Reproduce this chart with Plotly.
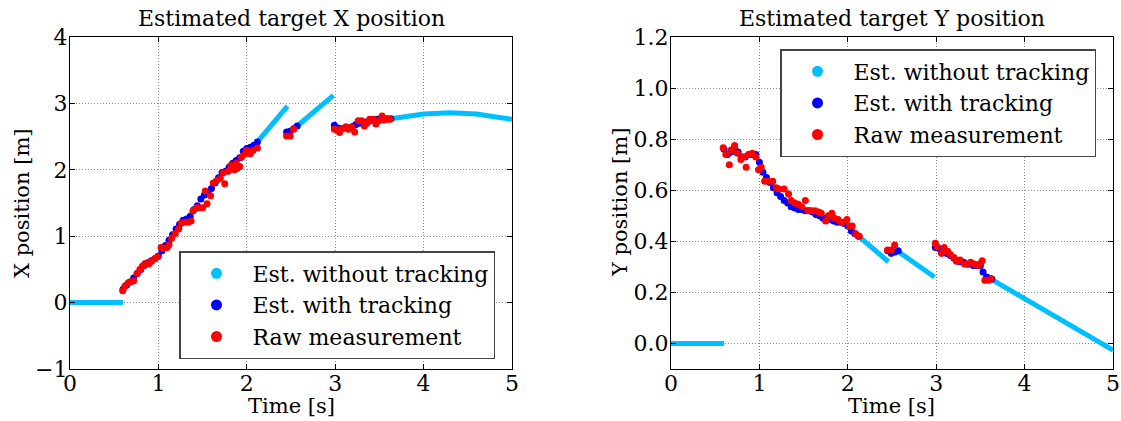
import plotly.graph_objects as go

# ---------------- X position (left panel) ----------------
x_free_t = [0.0, 0.6, None, 2.12, 2.46, None, 2.57, 2.98, None,
            3.63, 3.8, 4.0, 4.3, 4.6, 4.8, 5.0]
x_free_v = [0.0, 0.0, None, 2.42, 2.96, None, 2.66, 3.12, None,
            2.77, 2.81, 2.84, 2.86, 2.84, 2.80, 2.76]

x_trk_t = [0.60, 0.64, 0.68, 0.72, 0.76, 0.80, 0.84, 0.88, 0.92, 0.96,
           1.00, 1.04, 1.08, 1.12, 1.16, 1.20, 1.24, 1.28, 1.32, 1.36,
           1.40, 1.44, 1.48, 1.52, 1.56, 1.60, 1.64, 1.68, 1.72, 1.76,
           1.80, 1.84, 1.88, 1.92, 1.96, 2.00, 2.04, 2.08, 2.12,
           None, 2.45, 2.49, 2.53, 2.57,
           None, 2.99, 3.03, 3.07, 3.11, 3.15, 3.19, 3.23, 3.27, 3.31,
           3.35, 3.39, 3.43, 3.47, 3.51, 3.55, 3.59, 3.63]
x_trk_v = [0.20, 0.26, 0.31, 0.37, 0.44, 0.50, 0.56, 0.60, 0.63, 0.66,
           0.70, 0.78, 0.86, 0.94, 1.02, 1.11, 1.18, 1.24, 1.26, 1.30,
           1.40, 1.46, 1.56, 1.62, 1.66, 1.72, 1.80, 1.88, 1.96, 1.98,
           2.04, 2.10, 2.14, 2.18, 2.28, 2.32, 2.34, 2.37, 2.42,
           None, 2.57, 2.58, 2.62, 2.66,
           None, 2.67, 2.63, 2.62, 2.63, 2.63, 2.65, 2.68, 2.70, 2.71,
           2.72, 2.74, 2.75, 2.76, 2.77, 2.77, 2.77, 2.77]

x_raw_t = [0.596, 0.622, 0.66, 0.70, 0.72, 0.76, 0.79, 0.82, 0.85, 0.89,
           0.92, 0.96, 0.99, 1.03, 1.06, 1.10, 1.12, 1.15, 1.19, 1.23,
           1.26, 1.30, 1.34, 1.37, 1.39, 1.43, 1.46, 1.50, 1.53, 1.55,
           1.59, 1.62, 1.66, 1.70, 1.73, 1.75, 1.79, 1.82, 1.86, 1.88,
           1.89, 1.92, 1.94, 1.98, 2.00, 2.04, 2.07, 2.12,
           2.45, 2.49, 2.53,
           2.99, 3.02, 3.05, 3.08, 3.12, 3.15, 3.19, 3.22, 3.26, 3.30,
           3.33, 3.36, 3.39, 3.43, 3.46, 3.49, 3.53, 3.55, 3.59, 3.62]
x_raw_v = [0.18, 0.25, 0.30, 0.32, 0.33, 0.44, 0.50, 0.55, 0.59, 0.58,
           0.62, 0.66, 0.69, 0.83, 0.82, 0.83, 0.87, 0.97, 1.04, 1.11,
           1.20, 1.21, 1.21, 1.23, 1.38, 1.43, 1.43, 1.43, 1.68, 1.49,
           1.61, 1.80, 1.84, 1.87, 1.95, 1.79, 1.98, 2.07, 2.00, 2.10,
           2.02, 2.05, 2.19, 2.24, 2.29, 2.24, 2.29, 2.33,
           2.51, 2.51, 2.61,
           2.61, 2.60, 2.56, 2.62, 2.65, 2.61, 2.64, 2.57, 2.74, 2.74,
           2.66, 2.70, 2.76, 2.76, 2.69, 2.74, 2.81, 2.75, 2.76, 2.76]

# ---------------- Y position (right panel) ----------------
y_free_t = [0.0, 0.6, None, 2.12, 2.46, None, 2.57, 2.98, None, 3.63, 5.0]
y_free_v = [0.0, 0.0, None, 0.42, 0.32, None, 0.36, 0.26, None, 0.25, -0.026]

y_trk_t = [0.60, 0.64, 0.68, 0.72, 0.76, 0.80, 0.84, 0.88, 0.92, 0.96,
           1.00, 1.04, 1.08, 1.12, 1.16, 1.20, 1.24, 1.28, 1.32, 1.36,
           1.40, 1.44, 1.48, 1.52, 1.56, 1.60, 1.64, 1.68, 1.72, 1.76,
           1.80, 1.84, 1.88, 1.92, 1.96, 2.00, 2.04, 2.08, 2.12,
           None, 2.45, 2.49, 2.53, 2.57,
           None, 2.99, 3.04, 3.08, 3.12, 3.16, 3.20, 3.23, 3.27, 3.31,
           3.36, 3.42, 3.46, 3.50, 3.53, 3.57, 3.60, 3.63]
y_trk_v = [0.76, 0.74, 0.75, 0.77, 0.75, 0.73, 0.73, 0.74, 0.74, 0.74,
           0.71, 0.67, 0.65, 0.63, 0.61, 0.59, 0.575, 0.56, 0.55, 0.535,
           0.53, 0.525, 0.525, 0.52, 0.52, 0.515, 0.505, 0.50, 0.49, 0.49,
           0.485, 0.48, 0.475, 0.475, 0.47, 0.46, 0.44, 0.43, 0.42,
           None, 0.363, 0.353, 0.358, 0.363,
           None, 0.376, 0.37, 0.363, 0.352, 0.344, 0.334, 0.324, 0.32, 0.318,
           0.31, 0.305, 0.305, 0.305, 0.28, 0.26, 0.255, 0.252]

y_raw_t = [0.59, 0.62, 0.66, 0.68, 0.72, 0.75, 0.79, 0.82, 0.85, 0.88,
           0.92, 0.96, 0.99, 1.02, 1.06, 1.10, 1.15, 1.19, 1.22, 1.28,
           1.33, 1.36, 1.40, 1.44, 1.48, 1.52, 1.55, 1.59, 1.63, 1.67,
           1.70, 1.75, 1.78, 1.82, 1.85, 1.89, 1.93, 1.99, 2.02, 2.05,
           2.09, 2.13,
           2.45, 2.49, 2.53,
           2.99, 3.01, 3.06, 3.09, 3.13, 3.16, 3.20, 3.23, 3.27, 3.32,
           3.35, 3.39, 3.43, 3.47, 3.49, 3.52, 3.55, 3.59, 3.62]
y_raw_v = [0.766, 0.74, 0.70, 0.758, 0.775, 0.745, 0.72, 0.73, 0.69, 0.74,
           0.745, 0.73, 0.68, 0.69, 0.635, 0.635, 0.635, 0.61, 0.605, 0.605,
           0.585, 0.56, 0.55, 0.545, 0.535, 0.56, 0.52, 0.52, 0.52, 0.515,
           0.51, 0.48, 0.50, 0.51, 0.49, 0.485, 0.475, 0.485, 0.46, 0.46,
           0.43, 0.42,
           0.366, 0.366, 0.386,
           0.392, 0.379, 0.353, 0.376, 0.361, 0.348, 0.337, 0.322, 0.327, 0.311,
           0.311, 0.318, 0.311, 0.305, 0.311, 0.324, 0.248, 0.248, 0.252]

series_names = ["Est. without tracking", "Est. with tracking", "Raw measurement"]
series_colors = ["#00bfff", "#0000ff", "#ff0000"]

x_ticks = [0, 1, 2, 3, 4, 5]
left_y_ticks = [-1, 0, 1, 2, 3, 4]
left_y_labels = ["\u22121", "0", "1", "2", "3", "4"]
right_y_ticks = [0.0, 0.2, 0.4, 0.6, 0.8, 1.0, 1.2]
right_y_labels = ["0.0", "0.2", "0.4", "0.6", "0.8", "1.0", "1.2"]

FONT = "DejaVu Serif"
W, H = 1121, 421
LEFT_DOM = [70 / W, 512 / W]
RIGHT_DOM = [671 / W, 1113 / W]
Y_DOM = [52 / H, 384 / H]

fig = go.Figure()

panels = [
    ("x", "y", x_free_t, x_free_v, x_trk_t, x_trk_v, x_raw_t, x_raw_v, "legend"),
    ("x2", "y2", y_free_t, y_free_v, y_trk_t, y_trk_v, y_raw_t, y_raw_v, "legend2"),
]

for xa, ya, ft, fv, tt, tv, rt, rv, leg in panels:
    fig.add_trace(go.Scatter(x=ft, y=fv, xaxis=xa, yaxis=ya, mode="lines",
                             line=dict(color=series_colors[0], width=5),
                             showlegend=False, hoverinfo="skip"))
    fig.add_trace(go.Scatter(x=tt, y=tv, xaxis=xa, yaxis=ya, mode="markers",
                             marker=dict(color=series_colors[1], size=7),
                             showlegend=False, hoverinfo="skip"))
    fig.add_trace(go.Scatter(x=rt, y=rv, xaxis=xa, yaxis=ya, mode="markers",
                             marker=dict(color=series_colors[2], size=7),
                             showlegend=False, hoverinfo="skip"))
    # legend entries
    for i, (name, col) in enumerate(zip(series_names, series_colors)):
        fig.add_trace(go.Scatter(x=[None], y=[None], xaxis=xa, yaxis=ya,
                                 mode="markers", name=name, legend=leg,
                                 legendgroup=f"{leg}{i}",
                                 marker=dict(color=col, size=11)))

axis_common = dict(
    showline=True, mirror="ticks", linecolor="black", linewidth=1.3,
    showgrid=True, gridcolor="#8c8c8c", griddash="1px,2px", gridwidth=1,
    zeroline=False, ticks="inside", ticklen=5, tickcolor="black",
    tickfont=dict(family=FONT, size=22, color="black"),
    automargin=False,
)
x_axis_common = dict(axis_common, ticklabelstandoff=-6)
y_axis_common = dict(axis_common, ticklabelstandoff=-3)

legend_common = dict(
    font=dict(family=FONT, size=22, color="black"),
    bordercolor="#444444", borderwidth=1.5, bgcolor="white",
    xanchor="left", yanchor="top", itemwidth=62,
    traceorder="grouped", tracegroupgap=0,
)

title_font = dict(family=FONT, size=22, color="black")
label_font = dict(family=FONT, size=21, color="black")

fig.update_layout(
    width=W, height=H,
    margin=dict(l=0, r=0, t=0, b=0),
    plot_bgcolor="white", paper_bgcolor="white",
    font=dict(family=FONT, color="black"),
    xaxis=dict(x_axis_common, domain=LEFT_DOM, range=[0, 5],
               tickvals=x_ticks, anchor="y"),
    yaxis=dict(y_axis_common, domain=Y_DOM, range=[-1, 4],
               tickvals=left_y_ticks, ticktext=left_y_labels, anchor="x"),
    xaxis2=dict(x_axis_common, domain=RIGHT_DOM, range=[0, 5],
                tickvals=x_ticks, anchor="y2"),
    yaxis2=dict(y_axis_common, domain=Y_DOM, range=[-0.1, 1.2],
                tickvals=right_y_ticks, ticktext=right_y_labels, anchor="x2"),
    legend=dict(legend_common, x=179 / W, y=(H - 251) / H),
    legend2=dict(legend_common, x=780 / W, y=(H - 49) / H),
)

y_mid = (Y_DOM[0] + Y_DOM[1]) / 2
annots = [
    # panel titles
    dict(text="Estimated target X position", x=sum(LEFT_DOM) / 2, y=(H - 18) / H,
         font=title_font),
    dict(text="Estimated target Y position", x=sum(RIGHT_DOM) / 2, y=(H - 18) / H,
         font=title_font),
    # axis titles
    dict(text="Time [s]", x=sum(LEFT_DOM) / 2, y=(H - 406) / H, font=label_font),
    dict(text="Time [s]", x=sum(RIGHT_DOM) / 2, y=(H - 406) / H, font=label_font),
    dict(text="X position [m]", x=22 / W, y=y_mid, textangle=-90, font=label_font),
    dict(text="Y position [m]", x=620 / W, y=y_mid, textangle=-90, font=label_font),
]
for a in annots:
    fig.add_annotation(xref="paper", yref="paper", showarrow=False,
                       xanchor="center", yanchor="middle", **a)

fig.write_html("out.html")
